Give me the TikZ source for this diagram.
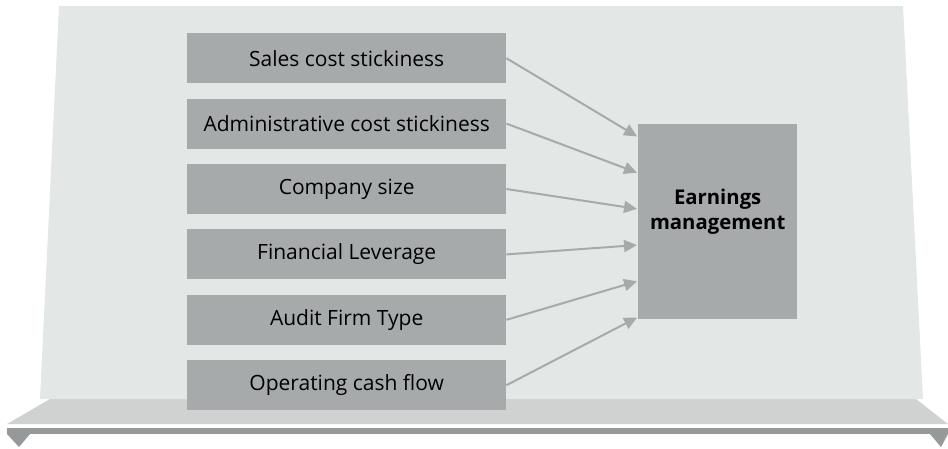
\documentclass[tikz,border=0pt]{standalone}
\usepackage{fontspec}
\setmainfont{Open Sans}
\usetikzlibrary{arrows.meta,calc}
\definecolor{bgc}{HTML}{E3E7E6}
\definecolor{boxc}{HTML}{A7AAAB}
\definecolor{platc}{HTML}{D0D1D1}
\definecolor{barc}{HTML}{96999A}
\tikzset{
  varbox/.style={fill=boxc, draw=none, minimum width=319pt, minimum height=50pt, inner sep=0pt, anchor=north west, font=\fontsize{21}{25}\selectfont},
  outbox/.style={fill=boxc, draw=none, minimum width=159pt, minimum height=195pt, inner sep=0pt, anchor=north west},
  outlabel/.style={font=\fontsize{20.3}{25}\selectfont\bfseries, align=center, yshift=10pt, inner sep=0pt},
  conn/.style={draw=boxc, line width=2pt, -{Triangle[length=13pt,width=12pt]}, shorten >=1pt}
}
\begin{document}
\begin{tikzpicture}[x=1pt,y=-1pt]
\useasboundingbox (0,0) rectangle (948,448);
% platform and bar
\fill[platc] (50,399) -- (916,399) -- (948,424) -- (7,424) -- cycle;
\fill[barc] (7,428) rectangle (948,434);
\fill[barc] (7,434) -- (30,434) -- (19,447) -- cycle;
\fill[barc] (930,434) -- (948,434) -- (941,447) -- cycle;
% background panel
\fill[bgc] (59,6) -- (903,6) -- (923,399) -- (40,399) -- cycle;
% boxes
\node[varbox] (b1) at (187,33) {Sales cost stickiness};
\node[varbox] (b2) at (187,98.4) {Administrative cost stickiness};
\node[varbox] (b3) at (187,163.8) {Company size};
\node[varbox] (b4) at (187,229.2) {Financial Leverage};
\node[varbox] (b5) at (187,294.6) {Audit Firm Type};
\node[varbox] (b6) at (187,360) {Operating cash flow};
\node[outbox, label={[outlabel]center:Earnings\\management}] (em) at (638,124) {};
% connectors
\foreach \i/\d in {1/13,2/49,3/85,4/121,5/157,6/193}{
  \draw[conn] (b\i.east) -- ($(em.north west)+(0,\d)$);
}
\end{tikzpicture}
\end{document}
